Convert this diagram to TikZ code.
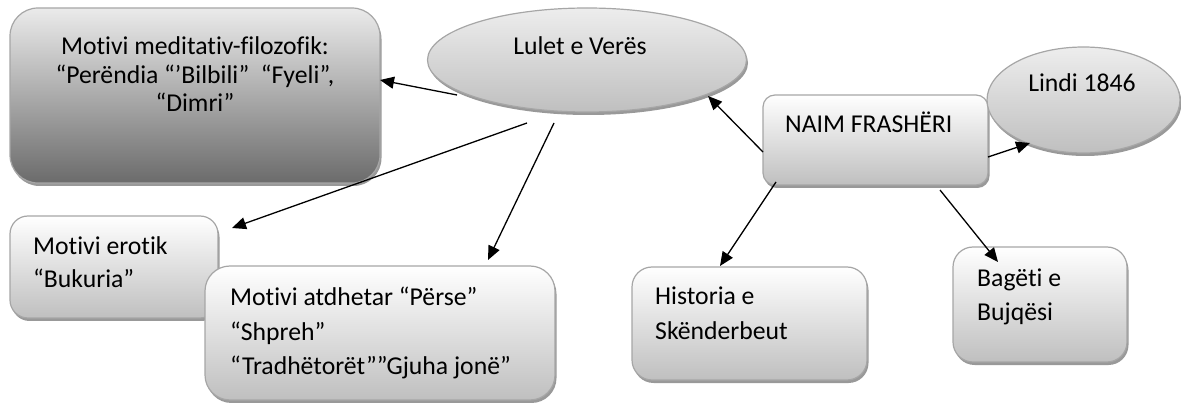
\documentclass[tikz,border=0pt]{standalone}
\usepackage{fontspec}
\setmainfont{Carlito}[Ligatures=CommonOff]
\usetikzlibrary{arrows.meta,shadows,shapes.geometric}
\begin{document}
\begin{tikzpicture}[x=1pt,y=-1pt,
  shp/.style={draw=black!35, line width=1.2pt,
    drop shadow={shadow xshift=1.5pt,shadow yshift=-3pt,fill=black!40,opacity=1}},
  lbox/.style={shp, rectangle, rounded corners=20pt, top color=white, bottom color=black!25},
  dbox/.style={shp, rectangle, rounded corners=28pt, top color=black!8, bottom color=black!58},
  ell/.style={shp, ellipse, inner sep=0pt, top color=black!7, bottom color=black!25},
  lbl/.style={inner sep=0pt, font=\fontsize{25.7}{31}\selectfont},
  txt/.style={inner sep=0pt, align=flush left, text width=#1},
  arr/.style={-{Triangle[length=14pt,width=12pt]}, line width=1.3pt},
]
\useasboundingbox (0,0) rectangle (1181,403);

% shapes
\node[dbox, minimum width=370pt, minimum height=175pt] (med) at (195,95.5) {};
\node[ell, minimum width=319pt, minimum height=104pt] (lul) at (587,60) {};
\node[lbox, rounded corners=12pt, minimum width=225pt, minimum height=90pt] (naim) at (875.5,140) {};
\node[ell, minimum width=193pt, minimum height=106pt] (lin) at (1083.5,100) {};
\node[lbox, rounded corners=18pt, minimum width=208pt, minimum height=102pt] (ero) at (114,267) {};
\node[lbox, rounded corners=25pt, minimum width=350pt, minimum height=134pt] (atd) at (380,333) {};
\node[lbox, minimum width=235pt, minimum height=113pt] (his) at (749.5,323.5) {};
\node[lbox, minimum width=174pt, minimum height=115pt] (bag) at (1040,304.5) {};

% texts
\node[lbl, txt=370pt, align=flush center, font=\fontsize{25.7}{28.5}\selectfont, anchor=base] (medt) at (195,55)
  {Motivi meditativ-filozofik:\\“Perëndia “’Bilbili”~ “Fyeli”,\\“Dimri”};
\node[lbl, anchor=base] (lult) at (580,55) {Lulet e Verës};
\node[lbl, anchor=base west] (naimt) at (785,133) {NAIM FRASHËRI};
\node[lbl, anchor=base] (lint) at (1082,92) {Lindi 1846};
\node[lbl, txt=200pt, font=\fontsize{25.7}{33}\selectfont, anchor=base west] (erot) at (33,255)
  {Motivi erotik\\“Bukuria”};
\node[lbl, txt=320pt, font=\fontsize{25.7}{34.5}\selectfont, anchor=base west] (atdt) at (230,306)
  {Motivi atdhetar “Përse”\\“Shpreh”\\“Tradhëtorët””Gjuha jonë”};
\node[lbl, txt=200pt, font=\fontsize{25.7}{35}\selectfont, anchor=base west] (hist) at (655,305)
  {Historia e\\Skënderbeut};
\node[lbl, txt=150pt, font=\fontsize{25.7}{34}\selectfont, anchor=base west] (bagt) at (977,287)
  {Bagëti e\\Bujqësi};

% connectors
\draw[arr] ([shift={(-130,35)}]lul.center) -- ([shift={(185,-15.5)}]med.center);
\draw[arr] ([shift={(-60,63)}]lul.center) -- ([shift={(118,-39)}]ero.center);
\draw[arr] ([shift={(-33,63)}]lul.center) -- ([shift={(108,-73)}]atd.center);
\draw[arr] ([shift={(-112.5,12)}]naim.center) -- ([shift={(121,36)}]lul.center);
\draw[arr] ([shift={(112.5,17)}]naim.center) -- ([shift={(-53.5,43)}]lin.center);
\draw[arr] ([shift={(-99.5,42)}]naim.center) -- ([shift={(-29.5,-57.5)}]his.center);
\draw[arr] ([shift={(64.5,50)}]naim.center) -- ([shift={(-42,-42.5)}]bag.center);
\end{tikzpicture}
\end{document}
